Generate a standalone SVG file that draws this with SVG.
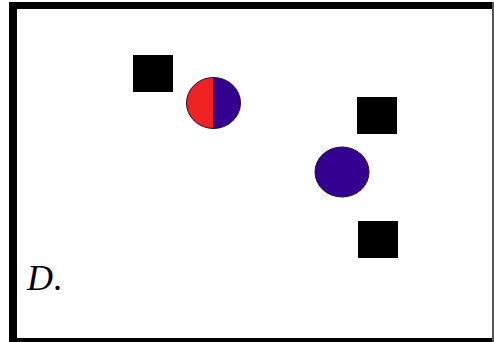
<svg xmlns="http://www.w3.org/2000/svg" width="494" height="342" viewBox="0 0 494 342">
<style>
.sq{fill:#000}
.bl{fill:#330090}
.rd{fill:#ee2222}
.ol{fill:none;stroke:#2a0a30;stroke-width:1}
.lbl{font-family:"Liberation Serif",serif;font-style:italic;font-size:36px;fill:#000}
</style>
<rect x="0" y="0" width="494" height="342" fill="#fff"/>
<g id="frame">
<rect x="9" y="2" width="485" height="7" fill="#000"/>
<rect x="9" y="2" width="8" height="340" fill="#000"/>
<rect x="9" y="338" width="485" height="4" fill="#000"/>
<rect x="492" y="2" width="2" height="340" fill="#555"/>
</g>
<g id="square1"><rect class="sq" x="133" y="55" width="40" height="37"/></g>
<g id="square2"><rect class="sq" x="357" y="97" width="40" height="37"/></g>
<g id="square3"><rect class="sq" x="358" y="221" width="40" height="37"/></g>
<g id="circle1">
<path class="rd" d="M213.5,77.5 A27,25.5 0 0 0 213.5,128.5 Z"/>
<path class="bl" d="M213.5,77.5 A27,25.5 0 0 1 213.5,128.5 Z"/>
<ellipse class="ol" cx="213.5" cy="103" rx="27" ry="25.5"/>
<line x1="213.5" y1="77.5" x2="213.5" y2="128.5" stroke="#3a1030" stroke-width="1"/>
</g>
<g id="circle2">
<ellipse class="bl" cx="342" cy="172" rx="27" ry="25"/>
<ellipse class="ol" cx="342" cy="172" rx="27" ry="25"/>
</g>
<g id="label"><text class="lbl" x="27" y="290">D<tspan font-style="normal">.</tspan></text></g>
</svg>
